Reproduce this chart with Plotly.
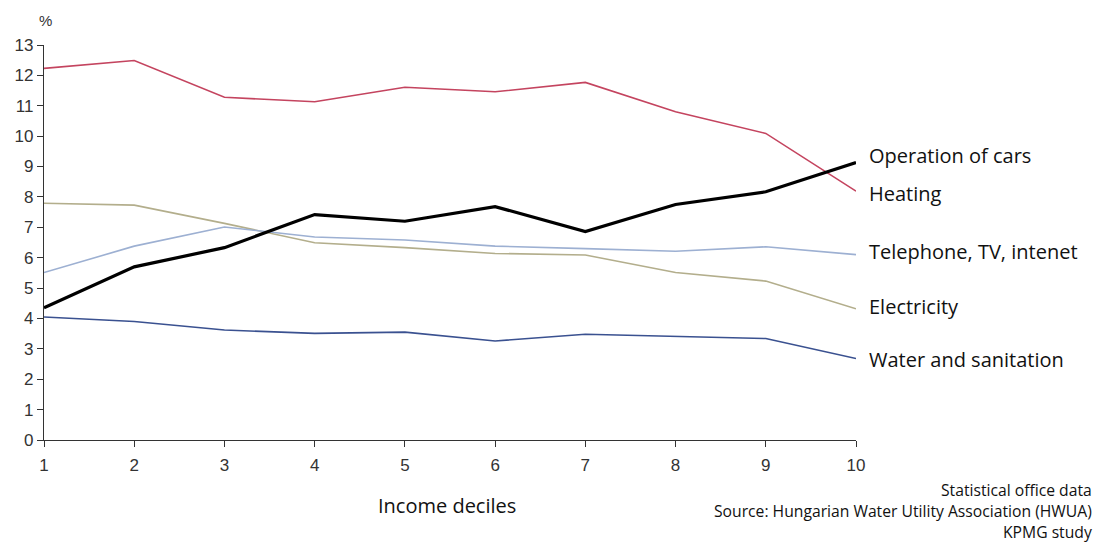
import plotly.graph_objects as go

deciles = [1, 2, 3, 4, 5, 6, 7, 8, 9, 10]
heating = [12.23, 12.49, 11.28, 11.13, 11.61, 11.46, 11.77, 10.80, 10.09, 8.19]
cars = [4.35, 5.70, 6.33, 7.42, 7.20, 7.68, 6.86, 7.75, 8.17, 9.13]
telephone = [5.51, 6.38, 7.01, 6.68, 6.58, 6.38, 6.30, 6.21, 6.36, 6.10]
electricity = [7.79, 7.73, 7.13, 6.49, 6.33, 6.14, 6.09, 5.51, 5.23, 4.32]
water = [4.05, 3.90, 3.62, 3.51, 3.55, 3.26, 3.48, 3.40, 3.34, 2.68]

series_names = ["Operation of cars", "Heating", "Telephone, TV, intenet", "Electricity", "Water and sanitation"]
label_y = [9.37, 8.12, 6.21, 4.40, 2.66]
y_ticks = list(range(0, 14))
footnote = ["Statistical office data", "Source: Hungarian Water Utility Association (HWUA)", "KPMG study"]

fig = go.Figure()
styles = [
    (heating, "#c4445f", 1.6),
    (electricity, "#b3ae8c", 1.6),
    (telephone, "#9db0d2", 1.6),
    (water, "#3a5190", 1.6),
    (cars, "#000000", 3.2),
]
for vals, col, w in styles:
    fig.add_trace(go.Scatter(x=deciles, y=vals, mode="lines",
                             line=dict(color=col, width=w), showlegend=False,
                             hoverinfo="skip"))

for name, ly in zip(series_names, label_y):
    fig.add_annotation(x=10, y=ly, xref="x", yref="y", text=name, showarrow=False,
                       xanchor="left", yanchor="middle", xshift=11,
                       font=dict(family="Open Sans", size=20, color="#111111"))

fig.add_annotation(x=0, y=1, xref="paper", yref="paper", text="%", showarrow=False,
                   xanchor="center", yanchor="bottom", yshift=14, xshift=1,
                   font=dict(family="Liberation Sans", size=15, color="#333333"))
fig.add_annotation(x=0.496, y=0, xref="paper", yref="paper", text="Income deciles",
                   showarrow=False, xanchor="center", yanchor="middle", yshift=-65,
                   font=dict(family="Open Sans", size=20, color="#111111"))
for i, line in enumerate(footnote):
    fig.add_annotation(x=1, y=0, xref="paper", yref="paper", text=line, showarrow=False,
                       xanchor="right", yanchor="middle", xshift=238, yshift=-50 - 21 * i,
                       font=dict(family="Open Sans", size=15.7, color="#111111"))

fig.update_layout(
    width=1101, height=542,
    margin=dict(l=44, r=245, t=45, b=102),
    paper_bgcolor="white", plot_bgcolor="white",
    xaxis=dict(range=[1, 10], tickvals=deciles, showgrid=False, zeroline=False,
               showline=True, linecolor="#333333", linewidth=1.3,
               ticks="outside", ticklen=6, tickcolor="#333333", ticklabelstandoff=3,
               tickfont=dict(family="Liberation Sans", size=17, color="#333333")),
    yaxis=dict(range=[0, 13], tickvals=y_ticks, showgrid=False, zeroline=False,
               showline=True, linecolor="#333333", linewidth=1.3,
               ticks="outside", ticklen=6, tickcolor="#333333",
               tickfont=dict(family="Liberation Sans", size=17, color="#333333")),
)

fig.write_html("out.html")
